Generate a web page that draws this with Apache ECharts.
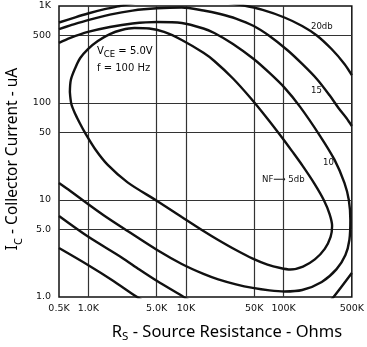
<!DOCTYPE html>
<html>
<head>
<meta charset="utf-8">
<script src="https://cdn.jsdelivr.net/npm/echarts@6/dist/echarts.min.js"></script>
<style>
html, body { margin: 0; padding: 0; background: #fff; }
#chart { width: 367px; height: 347px; }
</style>
</head>
<body>
<div id="chart"></div>
<script>
// axis ticks (Rs in K ohms, Ic in uA)
var xTicks = [0.5, 1, 5, 10, 50, 100, 500];
var xTickLabels = ['0.5K', '1.0K', '5.0K', '10K', '50K', '100K', '500K'];
var yTicks = [1, 5, 10, 50, 100, 500, 1000];
var yTickLabels = ['1.0', '5.0', '10', '50', '100', '500', '1K'];
var xGrid = [1, 5, 10, 50, 100];
var yGrid = [5, 10, 50, 100, 500];

// noise figure contours, [Rs (K), Ic (uA)]
var nf5 = [
    [0.646, 130], [0.661, 173], [0.734, 230], [0.825, 291], [0.99, 360], [1.25, 436],
    [1.66, 514], [2.19, 566], [2.96, 593], [4.2, 586], [5.96, 540], [9.05, 446],
    [15.1, 329], [19.5, 271], [30.3, 179], [46.1, 112], [68.4, 68.9], [97.1, 43.6],
    [122, 31.9], [158, 22.2], [209, 14.5], [258, 10], [296, 7.17], [314, 5.4],
    [303, 4.16], [264, 3.13], [209, 2.44], [158, 2.06], [117, 1.92], [92.6, 1.99],
    [68.4, 2.16], [48.3, 2.49], [32.5, 3.05], [21.4, 3.87], [15.1, 4.79], [9.05, 6.68],
    [5.06, 9.77], [2.52, 15.2], [1.58, 23], [1.17, 33.6], [0.926, 49.1], [0.825, 60.7],
    [0.734, 77], [0.669, 97.7], [0.646, 130]
];
var nf10 = [
    [0.5, 15], [0.653, 12.4], [0.99, 9.09], [1.47, 6.84], [2.52, 4.79], [5.06, 3.05],
    [9.05, 2.19], [15.1, 1.73], [21.4, 1.52], [32.5, 1.35], [48.3, 1.24], [71.7, 1.17],
    [102, 1.14], [155, 1.18], [246, 1.43], [349, 1.94], [430, 2.71], [472, 3.87],
    [483, 6.22], [466, 10], [420, 15], [333, 25.9], [235, 46.2], [147, 91.8],
    [102, 144], [71.7, 204], [49.4, 284], [30.3, 406], [19.5, 527], [15.1, 586],
    [9.05, 668], [5.06, 684], [2.83, 660], [1.66, 608], [0.99, 540], [0.653, 468], [0.5, 416]
];
var nf15Top = [
    [0.5, 579], [0.653, 630], [0.99, 714], [1.66, 815], [2.83, 897], [5.06, 947],
    [9.05, 965], [15.1, 899], [22.4, 827], [32.5, 743], [49.4, 622], [71.7, 491],
    [109, 352], [155, 253], [219, 177], [296, 120], [365, 88.8], [440, 70], [500, 57.9]
];
var nf15Low = [[0.5, 6.84], [0.99, 4.2], [2.19, 2.56], [3.33, 1.92], [5.06, 1.46], [9.48, 1.0], [15.1, 0.75]];
var nf15Corner = [[276, 0.83], [325, 1.0], [500, 1.77]];
var nf20Left = [[0.5, 676], [0.734, 765], [0.99, 837], [1.47, 927], [2.09, 1000], [3.33, 1099]];
var nf20Right = [[24, 1099], [38.3, 1017], [61, 910], [102, 761], [155, 622], [219, 497], [310, 360], [420, 253], [500, 194]];
var nf20Low = [[0.5, 3.2], [0.99, 2.14], [1.74, 1.5], [3.1, 1.01], [4.4, 0.81]];

var tickFont = 'DejaVu Sans';
var noteFont = '"DejaVu Sans Condensed", "DejaVu Sans"';
var nameFont = 'Noto Sans';

function pickLabel(ticks, labels, v) {
    for (var i = 0; i < ticks.length; i++) {
        if (Math.abs(Math.log(v / ticks[i])) < 0.01) return labels[i];
    }
    return '';
}

function curve(data) {
    return {
        type: 'line',
        data: data,
        smooth: 0.3,
        symbol: 'none',
        silent: true,
        clip: true,
        lineStyle: { color: '#111', width: 2.4 }
    };
}

function note(x, y, text) {
    return {
        type: 'text', x: x, y: y,
        style: { text: text, fontFamily: noteFont, fontSize: 9.5, fill: '#111', align: 'left', verticalAlign: 'middle' }
    };
}

var chart = echarts.init(document.getElementById('chart'), null, { renderer: 'canvas' });

var option = {
    backgroundColor: '#fff',
    animation: false,
    grid: {
        left: 59, top: 6, width: 297, height: 291,
        show: true, borderColor: '#111', borderWidth: 1.5
    },
    xAxis: {
        type: 'log', logBase: 10, min: 0.5, max: 500,
        axisLine: { show: false },
        axisTick: { show: false, customValues: xGrid },
        splitLine: { show: true, lineStyle: { color: '#333', width: 1.2 } },
        axisLabel: {
            customValues: xTicks,
            margin: 7,
            fontFamily: tickFont, fontSize: 9.5, color: '#111',
            formatter: function (v) { return pickLabel(xTicks, xTickLabels, v); }
        }
    },
    yAxis: {
        type: 'log', logBase: 10, min: 1, max: 1000,
        axisLine: { show: false },
        axisTick: { show: false, customValues: yGrid },
        splitLine: { show: true, lineStyle: { color: '#333', width: 1.2 } },
        axisLabel: {
            customValues: yTicks,
            margin: 8,
            fontFamily: tickFont, fontSize: 9.5, color: '#111',
            formatter: function (v) { return pickLabel(yTicks, yTickLabels, v); }
        }
    },
    series: [
        curve(nf5), curve(nf10), curve(nf15Top), curve(nf15Low), curve(nf15Corner),
        curve(nf20Left), curve(nf20Right), curve(nf20Low)
    ],
    graphic: [
        {
            type: 'text', x: 227, y: 332,
            style: {
                text: '{m|R}{s|S}{m| - Source Resistance - Ohms}',
                align: 'center', verticalAlign: 'middle',
                rich: {
                    m: { fontFamily: nameFont, fontSize: 16.5, color: '#111', lineHeight: 22, verticalAlign: 'middle' },
                    s: { fontFamily: nameFont, fontSize: 11.5, color: '#111', lineHeight: 22, verticalAlign: 'bottom' }
                }
            }
        },
        {
            type: 'text', x: 13, y: 159, rotation: Math.PI / 2,
            style: {
                text: '{m|I}{s|C}{m| - Collector Current - uA}',
                align: 'center', verticalAlign: 'middle',
                rich: {
                    m: { fontFamily: nameFont, fontSize: 15.5, color: '#111', lineHeight: 22, verticalAlign: 'middle' },
                    s: { fontFamily: nameFont, fontSize: 11, color: '#111', lineHeight: 22, verticalAlign: 'bottom' }
                }
            }
        },
        {
            type: 'text', x: 97, y: 51,
            style: {
                text: '{m|V}{s|CE}{m| = 5.0V}',
                align: 'left', verticalAlign: 'middle',
                rich: {
                    m: { fontFamily: tickFont, fontSize: 10, color: '#111', lineHeight: 16, verticalAlign: 'middle' },
                    s: { fontFamily: tickFont, fontSize: 8.5, color: '#111', lineHeight: 16, verticalAlign: 'bottom' }
                }
            }
        },
        { type: 'text', x: 97, y: 68, style: { text: 'f = 100 Hz', fontFamily: tickFont, fontSize: 10, fill: '#111', align: 'left', verticalAlign: 'middle' } },
        note(311, 27, '20db'),
        note(311, 91, '15'),
        note(323, 163, '10'),
        note(262, 180, 'NF\u27F6 5db')
    ]
};

chart.setOption(option);
</script>
</body>
</html>
